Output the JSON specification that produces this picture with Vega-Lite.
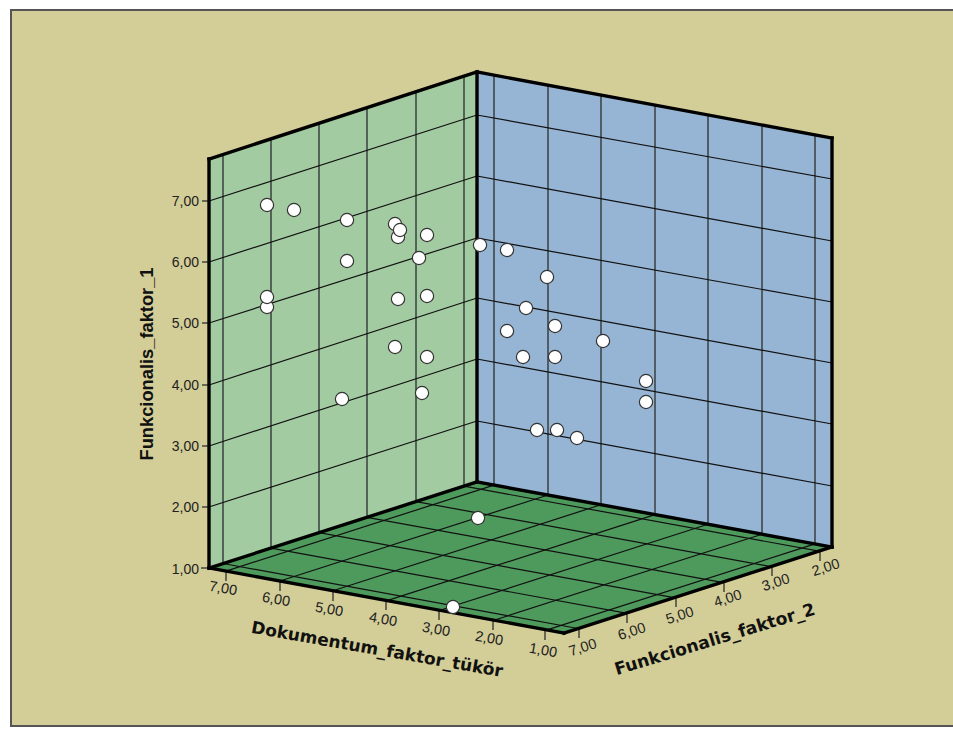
{"$schema":"https://vega.github.io/schema/vega-lite/v6.json","width":953,"height":731,"padding":0,"autosize":{"type":"none"},"background":"#ffffff","config":{"view":{"stroke":null}},
"datasets":{
"panel":[{"sx":11,"sx2":960,"sy":10,"sy2":726}],
"leftWall":[{"sx":209,"sy":159,"sy2":568},{"sx":477,"sy":72,"sy2":482}],
"rightWall":[{"sx":477,"sy":72,"sy2":482},{"sx":832,"sy":138,"sy2":547}],
"floor":[{"sx":209,"sy":568,"sy2":568},{"sx":477,"sy":482,"sy2":617},{"sx":564,"sy":498,"sy2":633},{"sx":832,"sy":547,"sy2":547}],
"verticalGrid":[
{"sx":223,"sy":154.5,"sx2":223,"sy2":563.5},{"sx":271,"sy":138.9,"sx2":271,"sy2":548.1},{"sx":319,"sy":123.3,"sx2":319,"sy2":532.7},{"sx":367,"sy":107.7,"sx2":367,"sy2":517.3},{"sx":416,"sy":91.8,"sx2":416,"sy2":501.6},{"sx":464,"sy":76.2,"sx2":464,"sy2":486.2},
{"sx":494,"sy":75.2,"sx2":494,"sy2":485.1},{"sx":548,"sy":85.2,"sx2":548,"sy2":495},{"sx":601,"sy":95.1,"sx2":601,"sy2":504.7},{"sx":655,"sy":105.1,"sx2":655,"sy2":514.6},{"sx":708,"sy":114.9,"sx2":708,"sy2":524.3},{"sx":762,"sy":125,"sx2":762,"sy2":534.2},{"sx":815,"sy":134.8,"sx2":815,"sy2":543.9}],
"grid":[
{"sx":209,"sy":201,"sx2":477,"sy2":115},{"sx":209,"sy":262,"sx2":477,"sy2":176},{"sx":209,"sy":323,"sx2":477,"sy2":238},{"sx":209,"sy":385,"sx2":477,"sy2":298},{"sx":209,"sy":446,"sx2":477,"sy2":359},{"sx":209,"sy":507,"sx2":477,"sy2":421},
{"sx":477,"sy":115,"sx2":832,"sy2":179},{"sx":477,"sy":176,"sx2":832,"sy2":241},{"sx":477,"sy":238,"sx2":832,"sy2":302},{"sx":477,"sy":298,"sx2":832,"sy2":363},{"sx":477,"sy":359,"sx2":832,"sy2":424},{"sx":477,"sy":421,"sx2":832,"sy2":486},
{"sx":494,"sy":485.1,"sx2":226,"sy2":571.1},{"sx":548,"sy":495,"sx2":280,"sy2":581},{"sx":601,"sy":504.7,"sx2":333,"sy2":590.7},{"sx":655,"sy":514.6,"sx2":387,"sy2":600.6},{"sx":708,"sy":524.3,"sx2":440,"sy2":610.3},{"sx":762,"sy":534.2,"sx2":494,"sy2":620.2},{"sx":815,"sy":543.9,"sx2":547,"sy2":629.9},
{"sx":223,"sy":563.5,"sx2":578,"sy2":628.5},{"sx":271,"sy":548.1,"sx2":626,"sy2":613.1},{"sx":319,"sy":532.7,"sx2":674,"sy2":597.7},{"sx":367,"sy":517.3,"sx2":722,"sy2":582.3},{"sx":416,"sy":501.6,"sx2":771,"sy2":566.6},{"sx":464,"sy":486.2,"sx2":819,"sy2":551.2}],
"ticks":[
{"sx":202,"sy":201,"sx2":209,"sy2":201},{"sx":202,"sy":262,"sx2":209,"sy2":262},{"sx":202,"sy":323,"sx2":209,"sy2":323},{"sx":202,"sy":385,"sx2":209,"sy2":385},{"sx":202,"sy":446,"sx2":209,"sy2":446},{"sx":202,"sy":507,"sx2":209,"sy2":507},{"sx":201,"sy":568,"sx2":209,"sy2":568},
{"sx":226,"sy":571,"sx2":226,"sy2":581},{"sx":280,"sy":581,"sx2":280,"sy2":591},{"sx":333,"sy":591,"sx2":333,"sy2":601},{"sx":386,"sy":600,"sx2":386,"sy2":610},{"sx":439,"sy":610,"sx2":439,"sy2":620},{"sx":493,"sy":620,"sx2":493,"sy2":630},{"sx":545,"sy":630,"sx2":545,"sy2":640},
{"sx":579,"sy":628,"sx2":579,"sy2":638},{"sx":627,"sy":613,"sx2":627,"sy2":623},{"sx":676,"sy":597,"sx2":676,"sy2":607},{"sx":724,"sy":582,"sx2":724,"sy2":592},{"sx":772,"sy":566,"sx2":772,"sy2":576},{"sx":820,"sy":551,"sx2":820,"sy2":561}],
"frame":[
{"sx":209,"sy":159,"sx2":209,"sy2":568},{"sx":209,"sy":159,"sx2":477,"sy2":72},{"sx":477,"sy":72,"sx2":832,"sy2":138},{"sx":832,"sy":138,"sx2":832,"sy2":547},{"sx":477,"sy":72,"sx2":477,"sy2":482},
{"sx":209,"sy":568,"sx2":477,"sy2":482},{"sx":477,"sy":482,"sx2":832,"sy2":547},{"sx":209,"sy":568,"sx2":564,"sy2":633},{"sx":564,"sy":633,"sx2":832,"sy2":547}],
"points":[
{"sx":267,"sy":205},{"sx":294,"sy":210},{"sx":347,"sy":220},{"sx":395,"sy":224},{"sx":398,"sy":237},{"sx":400,"sy":230},{"sx":427,"sy":235},{"sx":347,"sy":261},{"sx":419,"sy":258},{"sx":267,"sy":307},{"sx":267,"sy":297},{"sx":398,"sy":299},{"sx":427,"sy":296},{"sx":395,"sy":347},{"sx":427,"sy":357},{"sx":342,"sy":399},{"sx":422,"sy":393},{"sx":480,"sy":245},{"sx":507,"sy":250},{"sx":547,"sy":277},{"sx":526,"sy":308},{"sx":555,"sy":326},{"sx":507,"sy":331},{"sx":603,"sy":341},{"sx":523,"sy":357},{"sx":555,"sy":357},{"sx":646,"sy":381},{"sx":646,"sy":402},{"sx":537,"sy":430},{"sx":557,"sy":430},{"sx":577,"sy":438},{"sx":478,"sy":518},{"sx":453,"sy":607}],
"zLabels":[{"sx":199,"sy":202,"label":"7,00"},{"sx":199,"sy":263,"label":"6,00"},{"sx":199,"sy":324,"label":"5,00"},{"sx":199,"sy":386,"label":"4,00"},{"sx":199,"sy":447,"label":"3,00"},{"sx":199,"sy":508,"label":"2,00"},{"sx":199,"sy":570,"label":"1,00"}],
"dLabels":[{"sx":223,"sy":589,"label":"7,00"},{"sx":276,"sy":600,"label":"6,00"},{"sx":329,"sy":610,"label":"5,00"},{"sx":383,"sy":620,"label":"4,00"},{"sx":436,"sy":630,"label":"3,00"},{"sx":489,"sy":639,"label":"2,00"},{"sx":543,"sy":651,"label":"1,00"}],
"fLabels":[{"sx":583,"sy":648,"label":"7,00"},{"sx":632,"sy":632,"label":"6,00"},{"sx":680,"sy":616,"label":"5,00"},{"sx":728,"sy":599,"label":"4,00"},{"sx":776,"sy":583,"label":"3,00"},{"sx":826,"sy":568,"label":"2,00"}],
"zTitle":[{"sx":148,"sy":364,"label":"Funkcionalis_faktor_1"}],
"dTitle":[{"sx":377,"sy":650,"label":"Dokumentum_faktor_tükör"}],
"fTitle":[{"sx":715,"sy":640,"label":"Funkcionalis_faktor_2"}]
},
"encoding":{"x":{"field":"sx","type":"quantitative","scale":{"domain":[0,953],"nice":false,"zero":false},"axis":null},"y":{"field":"sy","type":"quantitative","scale":{"domain":[731,0],"nice":false,"zero":false},"axis":null}},
"layer":[
{"data":{"name":"panel"},"mark":{"type":"rect","fill":"#D3CD97","stroke":"#555555","strokeWidth":2},"encoding":{"x2":{"field":"sx2"},"y2":{"field":"sy2"}}},
{"data":{"name":"leftWall"},"mark":{"type":"area","color":"#A3CBA1"},"encoding":{"y2":{"field":"sy2"}}},
{"data":{"name":"rightWall"},"mark":{"type":"area","color":"#96B4D3"},"encoding":{"y2":{"field":"sy2"}}},
{"data":{"name":"floor"},"mark":{"type":"area","color":"#4E9A5C"},"encoding":{"y2":{"field":"sy2"}}},
{"data":{"name":"verticalGrid"},"mark":{"type":"rule","color":"#3a4040","strokeWidth":1.5},"encoding":{"x2":{"field":"sx2"},"y2":{"field":"sy2"}}},
{"data":{"name":"grid"},"mark":{"type":"rule","color":"#111111","strokeWidth":1.2},"encoding":{"x2":{"field":"sx2"},"y2":{"field":"sy2"}}},
{"data":{"name":"ticks"},"mark":{"type":"rule","color":"#222222","strokeWidth":1.2},"encoding":{"x2":{"field":"sx2"},"y2":{"field":"sy2"}}},
{"data":{"name":"frame"},"mark":{"type":"rule","color":"#000000","strokeWidth":3.4,"strokeCap":"square"},"encoding":{"x2":{"field":"sx2"},"y2":{"field":"sy2"}}},
{"data":{"name":"points"},"mark":{"type":"point","shape":"circle","filled":true,"fill":"#ffffff","stroke":"#333333","strokeWidth":1.2,"size":175,"opacity":1}},
{"data":{"name":"zLabels"},"mark":{"type":"text","align":"right","baseline":"middle","font":"Liberation Sans","fontSize":14,"color":"#222222"},"encoding":{"text":{"field":"label"}}},
{"data":{"name":"dLabels"},"mark":{"type":"text","align":"center","baseline":"middle","angle":10,"font":"Liberation Sans","fontSize":14.5,"color":"#222222"},"encoding":{"text":{"field":"label"}}},
{"data":{"name":"fLabels"},"mark":{"type":"text","align":"center","baseline":"middle","angle":-18,"font":"Liberation Sans","fontSize":14.5,"color":"#222222"},"encoding":{"text":{"field":"label"}}},
{"data":{"name":"zTitle"},"mark":{"type":"text","align":"center","baseline":"middle","angle":-90,"font":"Liberation Sans","fontWeight":"bold","fontSize":18.3,"color":"#111111"},"encoding":{"text":{"field":"label"}}},
{"data":{"name":"dTitle"},"mark":{"type":"text","align":"center","baseline":"middle","angle":10,"font":"DejaVu Sans","fontWeight":"bold","fontSize":17,"color":"#111111"},"encoding":{"text":{"field":"label"}}},
{"data":{"name":"fTitle"},"mark":{"type":"text","align":"center","baseline":"middle","angle":-17,"font":"DejaVu Sans","fontWeight":"bold","fontSize":17.2,"color":"#111111"},"encoding":{"text":{"field":"label"}}}
]}
